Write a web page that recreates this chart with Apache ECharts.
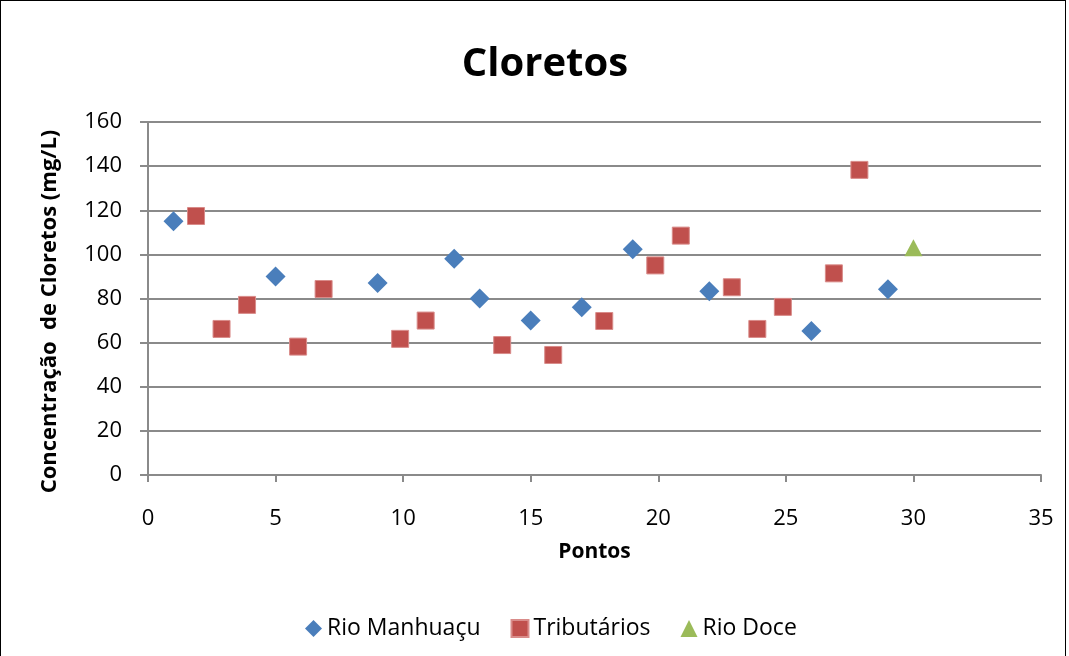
<!DOCTYPE html>
<html>
<head>
<meta charset="utf-8">
<script src="https://cdn.jsdelivr.net/npm/echarts@6/dist/echarts.min.js"></script>
<style>
  html, body { margin: 0; padding: 0; background: #fff; }
  #frame { position: absolute; left: 0; top: 0; width: 1066px; height: 700px; border: 1px solid #000; box-sizing: border-box; }
  #chart { position: absolute; left: 0; top: 0; width: 1069px; height: 656px; }
</style>
</head>
<body>
<div id="frame"></div>
<div id="chart"></div>
<script>
// Sampling points (Pontos) and chloride concentration (mg/L)
const manhuacuX = [1, 5, 9, 12, 13, 15, 17, 19, 22, 26, 29];
const manhuacuY = [115, 90, 87, 98, 80, 70, 76, 102.3, 83.3, 65.3, 84.2];

const tributariosX = [2, 3, 4, 6, 7, 10, 11, 14, 16, 18, 20, 21, 23, 24, 25, 27, 28];
const tributariosY = [117.4, 66.2, 77.1, 58.2, 84.3, 61.7, 70, 58.9, 54.4, 69.8, 95, 108.5, 85.1, 66.2, 76.2, 91.4, 138.3];

const doceX = [30];
const doceY = [103];

const seriesNames = ['Rio Manhuaçu', 'Tributários', 'Rio Doce'];
const xTicks = { min: 0, max: 35, interval: 5 };
const yTicks = { min: 0, max: 160, interval: 20 };

const pair = (xs, ys) => xs.map((x, i) => [x, ys[i]]);

const FONT = '"Open Sans", "Noto Sans", sans-serif';
const GRID_GRAY = '#8a8a8a';

const chart = echarts.init(document.getElementById('chart'), null, { renderer: 'canvas' });

chart.setOption({
  animation: false,
  backgroundColor: 'transparent',
  title: {
    text: 'Cloretos',
    left: 540,
    textAlign: 'center',
    top: 40,
    textStyle: { fontFamily: FONT, fontWeight: 'bold', fontSize: 40, color: '#000' }
  },
  grid: { left: 148, right: 28, top: 122, bottom: 181, containLabel: false },
  xAxis: {
    type: 'value',
    min: xTicks.min, max: xTicks.max, interval: xTicks.interval,
    name: 'Pontos',
    nameLocation: 'middle',
    nameGap: 67,
    nameTextStyle: { fontFamily: FONT, fontWeight: 'bold', fontSize: 21, color: '#000' },
    axisLine: { show: true, onZero: false, lineStyle: { color: GRID_GRAY, width: 2 } },
    axisTick: { show: true, inside: false, length: 7, lineStyle: { color: GRID_GRAY, width: 2 } },
    axisLabel: { margin: 33, fontFamily: FONT, fontSize: 22, color: '#000' },
    splitLine: { show: false }
  },
  yAxis: {
    type: 'value',
    min: yTicks.min, max: yTicks.max, interval: yTicks.interval,
    name: 'Concentração  de Cloretos (mg/L)',
    nameLocation: 'middle',
    nameRotate: 90,
    nameGap: 87,
    nameTextStyle: { fontFamily: FONT, fontWeight: 'bold', fontSize: 22, color: '#000', padding: [0, 26, 0, 0] },
    axisLine: { show: true, lineStyle: { color: GRID_GRAY, width: 2 } },
    axisTick: { show: true, inside: false, length: 8, lineStyle: { color: GRID_GRAY, width: 2 } },
    axisLabel: { margin: 26, fontFamily: FONT, fontSize: 22, color: '#000' },
    splitLine: { show: true, lineStyle: { color: GRID_GRAY, width: 2 } }
  },
  legend: {
    top: 612,
    left: 300,
    itemGap: 30,
    itemWidth: 17,
    itemHeight: 17,
    textStyle: { fontFamily: FONT, fontSize: 23, color: '#000' },
    data: seriesNames
  },
  series: [
    {
      name: seriesNames[0],
      type: 'scatter',
      symbol: 'diamond',
      symbolSize: 20,
      itemStyle: { color: '#4a7ebb', opacity: 1 },
      data: pair(manhuacuX, manhuacuY)
    },
    {
      name: seriesNames[1],
      type: 'scatter',
      symbol: 'rect',
      symbolSize: 17,
      symbolOffset: [-3, 0],
      itemStyle: { color: '#c0504d', borderColor: '#d98c8a', borderWidth: 1, opacity: 1 },
      data: pair(tributariosX, tributariosY)
    },
    {
      name: seriesNames[2],
      type: 'scatter',
      symbol: 'triangle',
      symbolSize: [18, 17],
      itemStyle: { color: '#9bbb59', opacity: 1 },
      data: pair(doceX, doceY)
    }
  ]
});
</script>
</body>
</html>
